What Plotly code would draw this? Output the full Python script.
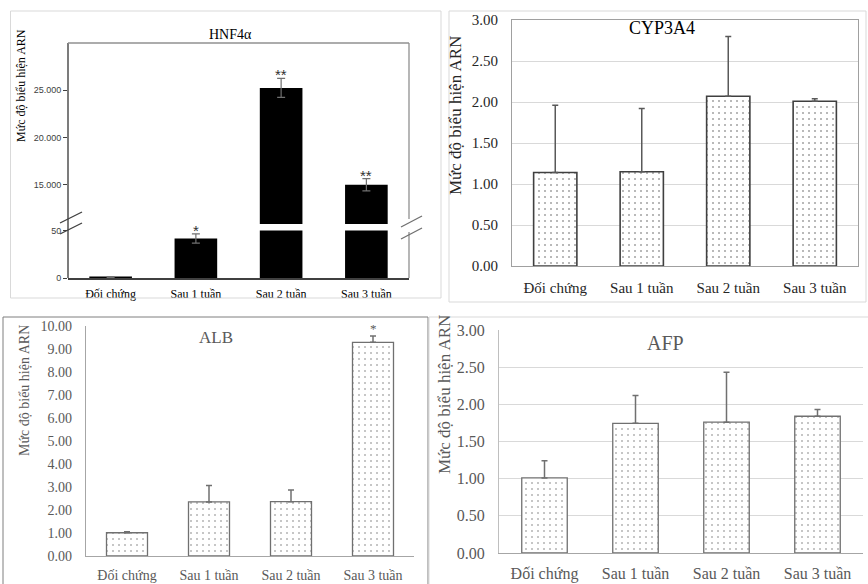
import plotly.graph_objects as go

W, H = 868, 584

categories = ["Đối chứng", "Sau 1 tuần", "Sau 2 tuần", "Sau 3 tuần"]

hnf4a_vals = [1, 42, 25250, 15000]
hnf4a_err = [0.6, 5, 1000, 650]
hnf4a_stars = ["", "*", "**", "**"]
hnf4a_ticks_low = [0, 50]
hnf4a_ticks_low_text = ["0", "50"]
hnf4a_ticks_high = [15000, 20000, 25000]
hnf4a_ticks_high_text = ["15.000", "20.000", "25.000"]

cyp3a4_vals = [1.14, 1.15, 2.07, 2.01]
cyp3a4_err = [0.82, 0.77, 0.73, 0.03]

alb_vals = [1.01, 2.35, 2.36, 9.29]
alb_err = [0.04, 0.71, 0.51, 0.28]
alb_stars = ["", "", "", "*"]

afp_vals = [1.01, 1.745, 1.76, 1.84]
afp_err = [0.23, 0.375, 0.67, 0.09]

SERIF = "Liberation Serif, Times New Roman, serif"
SANS = "Liberation Sans, Arial, sans-serif"


def px(x):
    return x / W


def py(y):
    return 1 - y / H


def dom_x(a, b):
    return [px(a), px(b)]


def dom_y(bottom, top):
    return [py(bottom), py(top)]


fig = go.Figure()

# ---------------- Panel 1: HNF4a (broken axis) ----------------
for yax in ["y", "y2"]:
    fig.add_trace(go.Bar(
        x=categories, y=hnf4a_vals, xaxis="x", yaxis=yax, width=0.5,
        marker=dict(color="black", line=dict(width=0)),
        error_y=dict(type="data", array=hnf4a_err, symmetric=True,
                     color="#707070", thickness=1.2, width=4),
        hoverinfo="skip",
    ))

# ---------------- Panel 2: CYP3A4 ----------------
pattern = dict(shape=".", fgcolor="#505050", bgcolor="white", size=6, solidity=0.05, fillmode="replace")
fig.add_trace(go.Bar(
    x=categories, y=cyp3a4_vals, xaxis="x2", yaxis="y3", width=0.5,
    marker=dict(color="white", pattern=pattern, line=dict(color="#404040", width=1.6)),
    error_y=dict(type="data", array=cyp3a4_err, arrayminus=[0] * 4, symmetric=False,
                 color="#595959", thickness=1.5, width=3),
    hoverinfo="skip",
))

# ---------------- Panel 3: ALB ----------------
pattern3 = dict(shape=".", fgcolor="#707070", bgcolor="white", size=6, solidity=0.05, fillmode="replace")
fig.add_trace(go.Bar(
    x=categories, y=alb_vals, xaxis="x3", yaxis="y4", width=0.5,
    marker=dict(color="white", pattern=pattern3, line=dict(color="#707070", width=1.3)),
    error_y=dict(type="data", array=alb_err, arrayminus=[0] * 4, symmetric=False,
                 color="#707070", thickness=1.5, width=3),
    hoverinfo="skip",
))

# ---------------- Panel 4: AFP ----------------
fig.add_trace(go.Bar(
    x=categories, y=afp_vals, xaxis="x4", yaxis="y5", width=0.5,
    marker=dict(color="white", pattern=pattern3, line=dict(color="#707070", width=1.3)),
    error_y=dict(type="data", array=afp_err, arrayminus=[0] * 4, symmetric=False,
                 color="#707070", thickness=1.5, width=3),
    hoverinfo="skip",
))

cat_axis = dict(type="category", range=[-0.5, 3.5], showgrid=False, zeroline=False,
                ticks="", fixedrange=True, automargin=False)

layout = dict(
    template="none",
    width=W, height=H, autosize=False,
    margin=dict(l=0, r=0, t=0, b=0, pad=0),
    paper_bgcolor="white", plot_bgcolor="white",
    showlegend=False,
    # panel 1
    xaxis=dict(cat_axis, domain=dom_x(68, 409), anchor="y", showline=True,
               linecolor="#404040", linewidth=1.5,
               tickfont=dict(family=SERIF, size=12, color="black"), ticklabelstandoff=4),
    yaxis=dict(domain=dom_y(278, 230.5), anchor="x", range=[0, 50.5],
               tickvals=hnf4a_ticks_low, ticktext=hnf4a_ticks_low_text,
               ticks="outside", ticklen=4, tickcolor="#404040", showgrid=False,
               zeroline=False, showline=False, automargin=False, fixedrange=True,
               tickfont=dict(family=SANS, size=9, color="#404040")),
    yaxis2=dict(domain=dom_y(224, 43), anchor="x", range=[10851, 30000],
                tickvals=hnf4a_ticks_high, ticktext=hnf4a_ticks_high_text,
                ticks="outside", ticklen=4, tickcolor="#404040", showgrid=False,
                zeroline=False, showline=False, automargin=False, fixedrange=True,
                tickfont=dict(family=SANS, size=9, color="#404040")),
    # panel 2
    xaxis2=dict(cat_axis, domain=dom_x(512, 858), anchor="y3", showline=True, mirror=True,
                linecolor="#a0a0a0", linewidth=1.2,
                tickfont=dict(family=SERIF, size=15, color="#262626"), ticklabelstandoff=8),
    yaxis3=dict(domain=dom_y(266, 20), anchor="x2", range=[0, 3], dtick=0.5,
                tickformat=".2f", showgrid=True, gridcolor="#d9d9d9", gridwidth=1,
                showline=True, mirror=True, linecolor="#a0a0a0", linewidth=1.2,
                zeroline=False, ticks="", ticklabelstandoff=10, automargin=False,
                fixedrange=True,
                tickfont=dict(family=SERIF, size=15, color="#262626")),
    # panel 3
    xaxis3=dict(cat_axis, domain=dom_x(86, 414), anchor="y4", showline=True,
                linecolor="#a6a6a6", linewidth=1.2,
                tickfont=dict(family=SERIF, size=14, color="#595959"), ticklabelstandoff=6),
    yaxis4=dict(domain=dom_y(556, 326), anchor="x3", range=[0, 10], dtick=1,
                tickformat=".2f", showgrid=False, showline=True,
                linecolor="#a6a6a6", linewidth=1.2, zeroline=False, ticks="",
                ticklabelstandoff=10, automargin=False, fixedrange=True,
                tickfont=dict(family=SERIF, size=14, color="#595959")),
    # panel 4
    xaxis4=dict(cat_axis, domain=dom_x(499, 863), anchor="y5", showline=True,
                linecolor="#a6a6a6", linewidth=1.2,
                tickfont=dict(family=SERIF, size=16, color="#595959"), ticklabelstandoff=6),
    yaxis5=dict(domain=dom_y(553, 330), anchor="x4", range=[0, 3], dtick=0.5,
                tickformat=".2f", showgrid=True, gridcolor="#d9d9d9", gridwidth=1,
                showline=True, linecolor="#bfbfbf", linewidth=1.2, zeroline=False,
                ticks="", ticklabelstandoff=10, automargin=False, fixedrange=True,
                tickfont=dict(family=SERIF, size=16, color="#595959")),
)
fig.update_layout(**layout)

shapes = []


def pline(x0, y0, x1, y1, color, width=1):
    shapes.append(dict(type="line", xref="paper", yref="paper",
                       x0=px(x0), y0=py(y0), x1=px(x1), y1=py(y1),
                       line=dict(color=color, width=width)))


def prect(x0, y0, x1, y1, color, width=1):
    shapes.append(dict(type="rect", xref="paper", yref="paper",
                       x0=px(x0), y0=py(y0), x1=px(x1), y1=py(y1),
                       line=dict(color=color, width=width), fillcolor="rgba(0,0,0,0)"))


# panel borders
prect(10.5, 11, 441, 298, "#d9d9d9")
prect(449, 11, 866, 302, "#d9d9d9")
prect(3, 317, 428, 590, "#7f7f7f")
prect(429, 317, 870, 590, "#d9d9d9")

# panel 1 frame
pline(68, 278, 68, 43, "#505050", 1.5)
pline(68, 43, 409, 43, "#909090", 1.3)
pline(409, 43, 409, 219, "#909090", 1.3)
pline(409, 232, 409, 278, "#909090", 1.3)
# break marks
pline(60, 223, 82, 212, "#404040", 1.3)
pline(60, 234, 82, 223, "#404040", 1.3)
pline(401, 227, 422, 216, "#707070", 1.3)
pline(401, 239, 422, 228, "#707070", 1.3)

fig.update_layout(shapes=shapes)

ann = []


def label(text, x, y, size, color, angle=0, family=SERIF):
    ann.append(dict(text=text, x=px(x), y=py(y), xref="paper", yref="paper",
                    xanchor="center", yanchor="middle", textangle=angle,
                    showarrow=False, font=dict(family=family, size=size, color=color)))


# y-axis titles
label("Mức độ biểu hiện ARN", 21, 86, 12, "black", -90)
label("Mức độ biểu hiện ARN", 455, 116, 17, "#262626", -90)
label("Mức độ biểu hiện ARN", 24, 391, 14, "#595959", -90)
label("Mức độ biểu hiện ARN", 444, 395, 17, "#595959", -90)
# panel titles
label("HNF4α", 230, 35, 14, "black")
label("CYP3A4", 662, 28, 18, "black")
label("ALB", 216, 337, 17, "#595959")
label("AFP", 665, 343, 20, "#595959")

# significance stars
for i, s in enumerate(hnf4a_stars):
    if not s:
        continue
    top = hnf4a_vals[i] + hnf4a_err[i]
    yref = "y" if hnf4a_vals[i] < 50 else "y2"
    ann.append(dict(text=s, x=categories[i], y=top, xref="x", yref=yref, showarrow=False,
                    xanchor="center", yanchor="bottom", yshift=-7,
                    font=dict(family=SANS, size=15, color="#303030")))
for i, s in enumerate(alb_stars):
    if not s:
        continue
    ann.append(dict(text=s, x=categories[i], y=alb_vals[i] + alb_err[i], xref="x3", yref="y4",
                    showarrow=False, xanchor="center", yanchor="bottom", yshift=-2,
                    font=dict(family=SERIF, size=13, color="#595959")))

fig.update_layout(annotations=ann)

fig.write_html(
    "out.html",
    config={"displayModeBar": False, "staticPlot": False},
    post_script="document.body.style.margin='0';document.body.style.overflow='hidden';",
)
